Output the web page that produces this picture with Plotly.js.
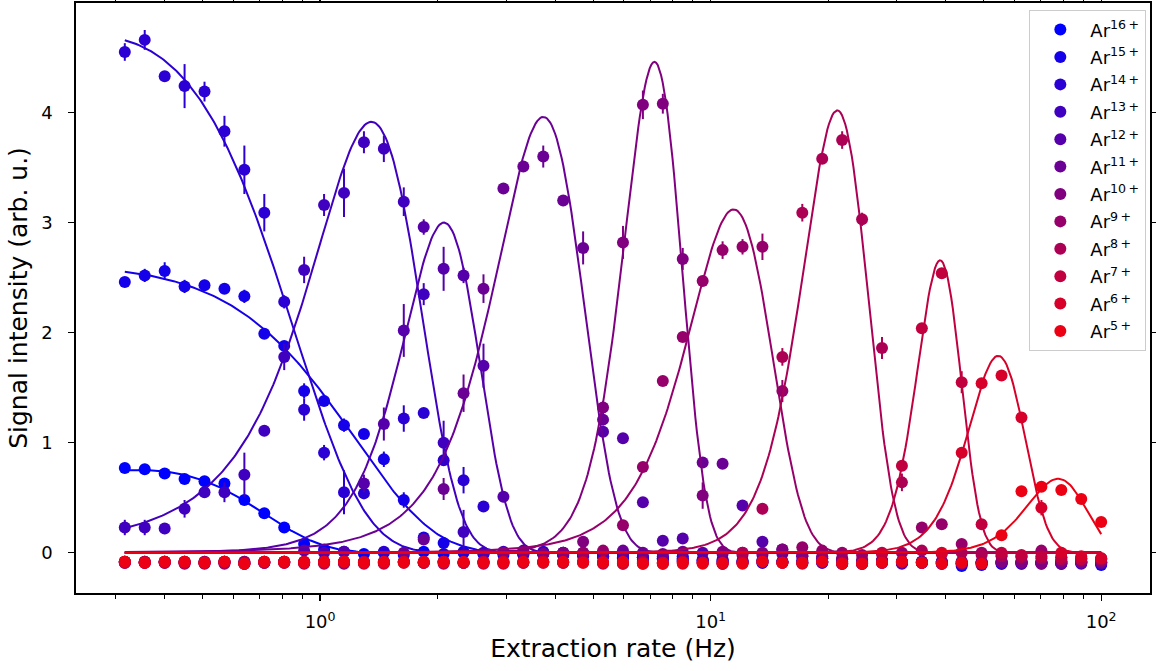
<!DOCTYPE html>
<html>
<head>
<meta charset="utf-8">
<script src="https://cdn.plot.ly/plotly-3.0.1.min.js"></script>
<style>
  html, body { margin: 0; padding: 0; background: #fff; }
  #chart { width: 1156px; height: 671px; }
</style>
</head>
<body>
<div id="chart"></div>
<script>
// Extraction rates (Hz)
const xRate = [0.3162, 0.3556, 0.4000, 0.4498, 0.5059, 0.5690, 0.6399, 0.7197, 0.8094, 0.9102,
  1.0238, 1.1514, 1.2950, 1.4563, 1.6379, 1.8421, 2.0717, 2.3300, 2.6205, 2.9471,
  3.3145, 3.7276, 4.1924, 4.7151, 5.3029, 5.9640, 6.7075, 7.5437, 8.4835, 9.5411,
  10.730, 12.068, 13.572, 15.264, 17.167, 19.307, 21.714, 24.421, 27.465, 30.888,
  34.740, 39.069, 43.940, 49.417, 55.578, 62.506, 70.298, 79.060, 88.916, 100.0];

const seriesNames = ['Ar<sup>16\u2009+</sup>', 'Ar<sup>15\u2009+</sup>', 'Ar<sup>14\u2009+</sup>', 'Ar<sup>13\u2009+</sup>',
  'Ar<sup>12\u2009+</sup>', 'Ar<sup>11\u2009+</sup>', 'Ar<sup>10\u2009+</sup>', 'Ar<sup>9\u2009+</sup>',
  'Ar<sup>8\u2009+</sup>', 'Ar<sup>7\u2009+</sup>', 'Ar<sup>6\u2009+</sup>', 'Ar<sup>5\u2009+</sup>'];

const seriesColors = ['rgb(0,0,255)', 'rgb(21,0,234)', 'rgb(43,0,212)', 'rgb(64,0,191)', 'rgb(85,0,170)', 'rgb(107,0,148)',
  'rgb(128,0,127)', 'rgb(150,0,106)', 'rgb(171,0,84)', 'rgb(192,0,63)', 'rgb(214,0,42)', 'rgb(235,0,20)'];

// Signal intensity (arb. u.) per charge state
const ar16 = [0.77, 0.76, 0.72, 0.67, 0.65, 0.63, 0.48, 0.36, 0.23, 0.08,
  0.03, 0.01, -0.01, 0.00, -0.02, 0.01, -0.01, 0.00, -0.01, -0.02,
  0.00, -0.01, -0.02, -0.01, -0.03, -0.05, -0.04, -0.06, -0.03, -0.07,
  -0.08, -0.09, -0.07, -0.08, -0.09, -0.08, -0.10, -0.09, -0.08, -0.09,
  -0.08, -0.10, -0.12, -0.11, -0.10, -0.09, -0.08, -0.10, -0.09, -0.11];
const ar15 = [2.46, 2.52, 2.56, 2.42, 2.43, 2.40, 2.33, 1.99, 1.88, 1.47,
  1.38, 1.16, 1.08, 0.85, 0.48, 0.14, 0.09, 0.01, -0.01, 0.00,
  -0.02, -0.01, 0.00, -0.03, -0.02, -0.04, -0.06, -0.05, -0.07, -0.08,
  -0.06, -0.08, -0.09, -0.08, -0.07, -0.09, -0.08, -0.10, -0.09, -0.08,
  -0.09, -0.10, -0.08, -0.09, -0.10, -0.08, -0.09, -0.10, -0.08, -0.09];
const ar14 = [4.55, 4.66, 4.33, 4.24, 4.19, 3.83, 3.48, 3.09, 2.28, 1.30,
  0.91, 0.55, 0.54, 0.01, 1.22, 1.27, 0.84, 0.66, 0.42, 0.00,
  -0.01, 0.01, -0.02, 0.00, -0.03, -0.02, -0.04, -0.05, -0.06, -0.07,
  -0.08, -0.07, -0.09, -0.08, -0.09, -0.08, -0.10, -0.09, -0.08, -0.10,
  -0.09, -0.08, -0.10, -0.09, -0.08, -0.10, -0.09, -0.08, -0.10, -0.09];
const ar13 = [0.23, 0.23, 0.22, 0.40, 0.55, 0.55, 0.71, 1.11, 1.78, 2.57,
  3.16, 3.27, 3.73, 3.67, 3.19, 2.35, 1.00, 0.19, 0.00, 0.01,
  -0.01, 0.00, -0.02, -0.01, -0.03, -0.02, -0.04, -0.03, -0.05, -0.06,
  -0.07, -0.08, -0.07, -0.09, -0.08, -0.09, -0.08, -0.10, -0.09, -0.08,
  -0.09, -0.08, -0.10, -0.09, -0.08, -0.10, -0.09, -0.08, -0.09, -0.10];
const ar12 = [-0.08, -0.09, -0.08, -0.09, -0.08, -0.08, -0.10, -0.09, -0.08, 0.02,
  0.00, 0.01, 0.63, 1.17, 2.02, 2.96, 2.58, 2.52, 1.70, 0.51,
  0.02, -0.01, 0.00, -0.02, 1.10, 1.04, 0.46, 0.11, 0.13, 0.00,
  -0.01, 0.43, 0.10, 0.03, -0.03, -0.05, -0.06, -0.08, -0.07, -0.09,
  -0.08, -0.09, -0.10, -0.08, -0.09, -0.08, -0.10, -0.09, -0.08, -0.09];
const ar11 = [-0.09, -0.08, -0.09, -0.08, -0.10, -0.09, -0.08, -0.09, -0.08, -0.09,
  -0.08, -0.10, -0.09, -0.08, 0.00, 0.12, 0.58, 1.45, 2.40, 3.31,
  3.51, 3.60, 3.20, 2.77, 1.21, 0.02, 0.00, -0.01, 0.01, 0.82,
  0.81, 0.00, -0.02, -0.01, -0.03, -0.05, -0.06, -0.08, -0.07, -0.09,
  -0.08, -0.09, -0.08, -0.10, -0.09, -0.08, -0.09, -0.10, -0.08, -0.09];
const ar10 = [-0.08, -0.09, -0.08, -0.10, -0.09, -0.08, -0.09, -0.08, -0.09, -0.10,
  -0.08, -0.09, -0.08, -0.09, -0.08, -0.09, -0.08, -0.09, -0.08, 0.00,
  0.01, -0.01, 0.00, 0.10, 1.32, 2.82, 4.07, 4.08, 2.67, 0.52,
  0.01, -0.02, 0.00, 0.03, -0.02, -0.03, -0.05, -0.06, -0.07, -0.08,
  -0.09, -0.08, -0.10, -0.09, -0.08, -0.09, -0.10, -0.08, -0.09, -0.08];
const ar9 = [-0.09, -0.08, -0.09, -0.08, -0.09, -0.10, -0.08, -0.09, -0.08, -0.09,
  -0.10, -0.08, -0.09, -0.08, -0.09, -0.08, -0.10, -0.09, -0.08, -0.09,
  -0.08, -0.09, -0.08, 0.00, 0.02, 0.25, 0.78, 1.56, 1.96, 2.47,
  2.75, 2.78, 2.78, 1.47, 0.05, 0.02, 0.00, -0.02, -0.01, 0.00,
  0.23, 0.26, 0.08, 0.00, -0.02, -0.03, 0.02, -0.04, -0.05, -0.06];
const ar8 = [-0.08, -0.09, -0.08, -0.09, -0.08, -0.09, -0.10, -0.08, -0.09, -0.08,
  -0.09, -0.08, -0.10, -0.09, -0.08, -0.09, -0.08, -0.09, -0.10, -0.08,
  -0.09, -0.08, -0.09, -0.08, -0.10, -0.09, -0.08, -0.09, -0.08, -0.09,
  -0.10, 0.00, 0.40, 1.78, 3.09, 3.58, 3.75, 3.03, 1.86, 0.64,
  0.02, -0.01, 0.00, -0.02, -0.03, -0.04, -0.05, -0.06, -0.05, -0.06];
const ar7 = [-0.09, -0.08, -0.09, -0.08, -0.09, -0.08, -0.10, -0.09, -0.08, -0.09,
  -0.08, -0.09, -0.08, -0.10, -0.08, -0.09, -0.08, -0.09, -0.08, -0.10,
  -0.09, -0.08, -0.09, -0.08, -0.09, -0.10, -0.09, -0.10, -0.08, -0.09,
  -0.10, -0.09, -0.08, -0.09, -0.10, -0.08, -0.09, -0.10, 0.00, 0.79,
  2.04, 2.54, 1.55, 0.26, 0.00, -0.02, -0.03, -0.04, -0.06, -0.05];
const ar6 = [-0.08, -0.09, -0.08, -0.09, -0.09, -0.08, -0.10, -0.08, -0.09, -0.08,
  -0.09, -0.08, -0.09, -0.09, -0.08, -0.09, -0.08, -0.09, -0.09, -0.08,
  -0.09, -0.08, -0.09, -0.09, -0.08, -0.10, -0.10, -0.09, -0.10, -0.09,
  -0.10, -0.09, -0.08, -0.09, -0.09, -0.08, -0.10, -0.10, -0.09, -0.08,
  -0.09, 0.00, 0.91, 1.54, 1.61, 1.23, 0.41, 0.00, -0.03, -0.05];
const ar5 = [-0.08, -0.09, -0.08, -0.08, -0.09, -0.08, -0.10, -0.08, -0.08, -0.09,
  -0.08, -0.08, -0.09, -0.08, -0.09, -0.08, -0.09, -0.08, -0.09, -0.09,
  -0.08, -0.09, -0.08, -0.09, -0.09, -0.08, -0.10, -0.10, -0.09, -0.10,
  -0.09, -0.10, -0.08, -0.09, -0.09, -0.08, -0.10, -0.10, -0.09, -0.08,
  -0.09, -0.10, -0.09, -0.10, 0.16, 0.56, 0.60, 0.57, 0.49, 0.28];

// Error bars (half-length)
const err16 = [0.02, 0.02, 0.02, 0.04, 0.02, 0.05, 0.02, 0.02, 0.02, 0.02,
  0.02, 0.01, 0.01, 0.01, 0.01, 0.01, 0.01, 0.01, 0.01, 0.01,
  0.01, 0.01, 0.01, 0.01, 0.01, 0.01, 0.01, 0.01, 0.01, 0.01,
  0.01, 0.01, 0.01, 0.01, 0.01, 0.01, 0.01, 0.01, 0.01, 0.01,
  0.01, 0.01, 0.01, 0.01, 0.01, 0.01, 0.01, 0.01, 0.01, 0.01];
const err15 = [0.02, 0.06, 0.08, 0.06, 0.05, 0.02, 0.06, 0.02, 0.03, 0.07,
  0.03, 0.06, 0.03, 0.07, 0.07, 0.03, 0.03, 0.01, 0.01, 0.01,
  0.01, 0.01, 0.01, 0.01, 0.01, 0.01, 0.01, 0.01, 0.01, 0.01,
  0.01, 0.01, 0.01, 0.01, 0.01, 0.01, 0.01, 0.01, 0.01, 0.01,
  0.01, 0.01, 0.01, 0.01, 0.01, 0.01, 0.01, 0.01, 0.01, 0.01];
const err14 = [0.08, 0.09, 0.02, 0.20, 0.09, 0.14, 0.22, 0.17, 0.06, 0.10,
  0.07, 0.20, 0.03, 0.01, 0.12, 0.02, 0.03, 0.12, 0.03, 0.01,
  0.01, 0.01, 0.01, 0.01, 0.01, 0.01, 0.01, 0.01, 0.01, 0.01,
  0.01, 0.01, 0.01, 0.01, 0.01, 0.01, 0.01, 0.01, 0.01, 0.01,
  0.01, 0.01, 0.01, 0.01, 0.01, 0.01, 0.01, 0.01, 0.01, 0.01];
const err13 = [0.07, 0.07, 0.05, 0.08, 0.05, 0.09, 0.20, 0.05, 0.12, 0.12,
  0.10, 0.22, 0.10, 0.12, 0.13, 0.10, 0.20, 0.20, 0.01, 0.01,
  0.01, 0.01, 0.01, 0.01, 0.01, 0.01, 0.01, 0.01, 0.01, 0.01,
  0.01, 0.01, 0.01, 0.01, 0.01, 0.01, 0.01, 0.01, 0.01, 0.01,
  0.01, 0.01, 0.01, 0.01, 0.01, 0.01, 0.01, 0.01, 0.01, 0.01];
const err12 = [0.01, 0.01, 0.01, 0.01, 0.01, 0.01, 0.01, 0.01, 0.01, 0.01,
  0.01, 0.01, 0.08, 0.15, 0.24, 0.07, 0.20, 0.07, 0.20, 0.05,
  0.01, 0.01, 0.01, 0.01, 0.02, 0.04, 0.02, 0.01, 0.01, 0.01,
  0.01, 0.02, 0.01, 0.01, 0.01, 0.01, 0.01, 0.01, 0.01, 0.01,
  0.01, 0.01, 0.01, 0.01, 0.01, 0.01, 0.01, 0.01, 0.01, 0.01];
const err11 = [0.01, 0.01, 0.01, 0.01, 0.01, 0.01, 0.01, 0.01, 0.01, 0.01,
  0.01, 0.01, 0.01, 0.01, 0.01, 0.02, 0.10, 0.17, 0.13, 0.02,
  0.05, 0.10, 0.05, 0.15, 0.05, 0.01, 0.01, 0.01, 0.01, 0.02,
  0.02, 0.01, 0.01, 0.01, 0.01, 0.01, 0.01, 0.01, 0.01, 0.01,
  0.01, 0.01, 0.01, 0.01, 0.01, 0.01, 0.01, 0.01, 0.01, 0.01];
const err10 = [0.01, 0.01, 0.01, 0.01, 0.01, 0.01, 0.01, 0.01, 0.01, 0.01,
  0.01, 0.01, 0.01, 0.01, 0.01, 0.01, 0.01, 0.01, 0.01, 0.01,
  0.01, 0.01, 0.01, 0.02, 0.06, 0.15, 0.13, 0.09, 0.10, 0.12,
  0.01, 0.01, 0.01, 0.01, 0.01, 0.01, 0.01, 0.01, 0.01, 0.01,
  0.01, 0.01, 0.01, 0.01, 0.01, 0.01, 0.01, 0.01, 0.01, 0.01];
const err9 = [0.01, 0.01, 0.01, 0.01, 0.01, 0.01, 0.01, 0.01, 0.01, 0.01,
  0.01, 0.01, 0.01, 0.01, 0.01, 0.01, 0.01, 0.01, 0.01, 0.01,
  0.01, 0.01, 0.01, 0.01, 0.01, 0.03, 0.03, 0.03, 0.03, 0.03,
  0.08, 0.07, 0.12, 0.10, 0.01, 0.01, 0.01, 0.01, 0.01, 0.01,
  0.05, 0.03, 0.01, 0.01, 0.01, 0.01, 0.01, 0.01, 0.01, 0.01];
const err8 = [0.01, 0.01, 0.01, 0.01, 0.01, 0.01, 0.01, 0.01, 0.01, 0.01,
  0.01, 0.01, 0.01, 0.01, 0.01, 0.01, 0.01, 0.01, 0.01, 0.01,
  0.01, 0.01, 0.01, 0.01, 0.01, 0.01, 0.01, 0.01, 0.01, 0.01,
  0.01, 0.01, 0.05, 0.08, 0.08, 0.03, 0.08, 0.06, 0.10, 0.08,
  0.01, 0.01, 0.01, 0.01, 0.01, 0.01, 0.01, 0.01, 0.01, 0.01];
const err7 = [0.01, 0.01, 0.01, 0.01, 0.01, 0.01, 0.01, 0.01, 0.01, 0.01,
  0.01, 0.01, 0.01, 0.01, 0.01, 0.01, 0.01, 0.01, 0.01, 0.01,
  0.01, 0.01, 0.01, 0.01, 0.01, 0.01, 0.01, 0.01, 0.01, 0.01,
  0.01, 0.01, 0.01, 0.01, 0.01, 0.01, 0.01, 0.01, 0.01, 0.03,
  0.03, 0.03, 0.10, 0.03, 0.01, 0.01, 0.01, 0.01, 0.01, 0.01];
const err6 = [0.01, 0.01, 0.01, 0.01, 0.01, 0.01, 0.01, 0.01, 0.01, 0.01,
  0.01, 0.01, 0.01, 0.01, 0.01, 0.01, 0.01, 0.01, 0.01, 0.01,
  0.01, 0.01, 0.01, 0.01, 0.01, 0.01, 0.01, 0.01, 0.01, 0.01,
  0.01, 0.01, 0.01, 0.01, 0.01, 0.01, 0.01, 0.01, 0.01, 0.01,
  0.01, 0.01, 0.03, 0.03, 0.03, 0.03, 0.07, 0.01, 0.01, 0.01];
const err5 = [0.01, 0.01, 0.01, 0.01, 0.01, 0.01, 0.01, 0.01, 0.01, 0.01,
  0.01, 0.01, 0.01, 0.01, 0.01, 0.01, 0.01, 0.01, 0.01, 0.01,
  0.01, 0.01, 0.01, 0.01, 0.01, 0.01, 0.01, 0.01, 0.01, 0.01,
  0.01, 0.01, 0.01, 0.01, 0.01, 0.01, 0.01, 0.01, 0.01, 0.01,
  0.01, 0.01, 0.01, 0.01, 0.02, 0.02, 0.02, 0.02, 0.02, 0.02];

// Gaussian fit parameters (amplitude, centre in Hz, width in Hz)
const fitAmp    = [0.752, 2.60, 4.70, 3.915, 3.00, 3.96, 4.46, 3.12, 4.02, 2.657, 1.79, 0.673];
const fitCenter = [0.342, 0.169, 0.253, 1.353, 2.075, 3.73, 7.18, 11.45, 21.1, 38.7, 54.5, 77.6];
const fitWidth  = [0.309, 0.783, 0.466, 0.433, 0.465, 0.955, 1.22, 2.8, 4.03, 5.0, 9.0, 13.5];
const fitRange  = [0.3162, 100.0];

// Axis ticks
const xTickVals = [1, 10, 100];
const xTickText = ['10<sup>0</sup>', '10<sup>1</sup>', '10<sup>2</sup>'];
const xMinorVals = [0.3, 0.4, 0.5, 0.6, 0.7, 0.8, 0.9, 2, 3, 4, 5, 6, 7, 8, 9, 20, 30, 40, 50, 60, 70, 80, 90];
const yTickVals = [0, 1, 2, 3, 4];

const values = [ar16, ar15, ar14, ar13, ar12, ar11, ar10, ar9, ar8, ar7, ar6, ar5];
const errors = [err16, err15, err14, err13, err12, err11, err10, err9, err8, err7, err6, err5];

// fit-curve sampling grid (log-spaced between the first and last rate)
const nCurve = 600;
const curveX = [];
const lo = Math.log10(fitRange[0]), hi = Math.log10(fitRange[1]);
for (let j = 0; j < nCurve; j++) curveX.push(Math.pow(10, lo + (hi - lo) * j / (nCurve - 1)));

const traces = [];
for (let i = 0; i < values.length; i++) {
  traces.push({
    type: 'scatter', mode: 'markers', x: xRate, y: values[i],
    name: seriesNames[i], legendgroup: 'g' + i,
    marker: { color: seriesColors[i], size: 12 },
    error_y: { type: 'data', array: errors[i], visible: true, color: seriesColors[i], thickness: 2, width: 0 },
    hoverinfo: 'x+y'
  });
  const A = fitAmp[i], mu = fitCenter[i], s = fitWidth[i];
  traces.push({
    type: 'scatter', mode: 'lines', x: curveX,
    y: curveX.map(v => A * Math.exp(-((v - mu) * (v - mu)) / (2 * s * s))),
    line: { color: seriesColors[i], width: 2 },
    legendgroup: 'g' + i, showlegend: false, hoverinfo: 'skip'
  });
}

const font = 'DejaVu Sans, Liberation Sans, sans-serif';
const layout = {
  width: 1156, height: 671,
  margin: { l: 76, r: 6, t: 3, b: 78 },
  paper_bgcolor: '#ffffff', plot_bgcolor: '#ffffff',
  font: { family: font, color: '#000000', size: 18 },
  showlegend: true,
  xaxis: {
    type: 'log', range: [-0.625, 2.125],
    showline: true, linecolor: '#000000', linewidth: 1.6, mirror: 'ticks',
    ticks: 'outside', ticklen: 6, tickwidth: 1.3, tickcolor: '#000000',
    tickvals: xTickVals, ticktext: xTickText, tickfont: { size: 18 }, ticklabelstandoff: 6,
    minor: { tickvals: xMinorVals, ticks: 'outside', ticklen: 4.5, tickwidth: 1, tickcolor: '#000000', showgrid: false },
    showgrid: false, zeroline: false,
    title: { text: 'Extraction rate (Hz)', font: { size: 25 }, standoff: 8 }
  },
  yaxis: {
    range: [-0.365, 4.995],
    showline: true, linecolor: '#000000', linewidth: 1.6, mirror: 'ticks',
    ticks: 'outside', ticklen: 6, tickwidth: 1.3, tickcolor: '#000000',
    tickvals: yTickVals, tickfont: { size: 18 }, ticklabelstandoff: 12,
    showgrid: false, zeroline: false,
    title: { text: 'Signal intensity (arb. u.)', font: { size: 25 }, standoff: 6 }
  },
  legend: {
    x: 0.9963, xanchor: 'right', y: 0.988, yanchor: 'top',
    bgcolor: 'rgba(255,255,255,0.85)', bordercolor: '#cccccc', borderwidth: 1.3,
    font: { size: 18, family: font }, tracegroupgap: 1, itemwidth: 50
  }
};

Plotly.newPlot('chart', traces, layout, { displayModeBar: false, staticPlot: true });
</script>
</body>
</html>
